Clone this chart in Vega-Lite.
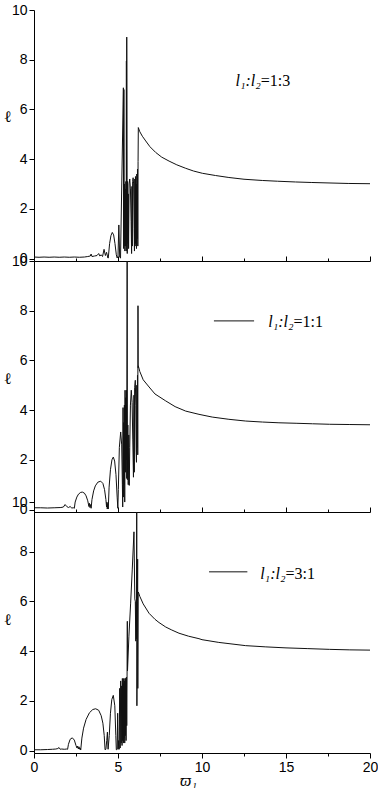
{
  "$schema": "https://vega.github.io/schema/vega-lite/v6.json",
  "background": "white",
  "padding": {"left": 3, "top": 3, "right": 0, "bottom": 0},
  "autosize": {"type": "pad"},
  "bounds": "flush",
  "spacing": 0,
  "datasets": {
    "curve": [
      {"p":1,"w":0,"v":0.06},{"p":1,"w":0.3,"v":0.05},{"p":1,"w":0.6,"v":0.06},{"p":1,"w":0.9,"v":0.05},{"p":1,"w":1.2,"v":0.06},{"p":1,"w":1.5,"v":0.05},{"p":1,"w":1.8,"v":0.06},{"p":1,"w":2.1,"v":0.05},{"p":1,"w":2.4,"v":0.06},{"p":1,"w":2.7,"v":0.05},{"p":1,"w":3.0,"v":0.06},{"p":1,"w":3.2,"v":0.08},{"p":1,"w":3.35,"v":0.1},{"p":1,"w":3.4,"v":0.18},{"p":1,"w":3.45,"v":0.08},{"p":1,"w":3.6,"v":0.1},{"p":1,"w":3.75,"v":0.12},{"p":1,"w":3.85,"v":0.2},{"p":1,"w":3.92,"v":0.1},{"p":1,"w":4.0,"v":0.15},{"p":1,"w":4.08,"v":0.08},{"p":1,"w":4.17,"v":0.37},{"p":1,"w":4.25,"v":0.12},{"p":1,"w":4.32,"v":0.25},{"p":1,"w":4.4,"v":0.02},{"p":1,"w":4.42,"v":0.02},{"p":1,"w":4.5,"v":0.6},{"p":1,"w":4.58,"v":0.92},{"p":1,"w":4.66,"v":1.05},{"p":1,"w":4.74,"v":0.95},{"p":1,"w":4.82,"v":0.6},{"p":1,"w":4.9,"v":0.15},{"p":1,"w":4.95,"v":0.02},{"p":1,"w":5.0,"v":0.1},{"p":1,"w":5.05,"v":1.35},{"p":1,"w":5.1,"v":0.05},{"p":1,"w":5.15,"v":0.02},{"p":1,"w":5.32,"v":6.87},{"p":1,"w":5.335,"v":0.4},{"p":1,"w":5.35,"v":6.8},{"p":1,"w":5.37,"v":0.5},{"p":1,"w":5.39,"v":3.0},{"p":1,"w":5.41,"v":0.3},{"p":1,"w":5.43,"v":2.8},{"p":1,"w":5.45,"v":0.5},{"p":1,"w":5.47,"v":3.1},{"p":1,"w":5.49,"v":0.3},{"p":1,"w":5.5,"v":7.95},{"p":1,"w":5.51,"v":0.5},{"p":1,"w":5.52,"v":8.91},{"p":1,"w":5.55,"v":0.2},{"p":1,"w":5.57,"v":3.1},{"p":1,"w":5.59,"v":0.6},{"p":1,"w":5.61,"v":2.6},{"p":1,"w":5.63,"v":0.4},{"p":1,"w":5.66,"v":3.0},{"p":1,"w":5.7,"v":3.2},{"p":1,"w":5.74,"v":2.8},{"p":1,"w":5.78,"v":1.5},{"p":1,"w":5.81,"v":0.2},{"p":1,"w":5.83,"v":2.9},{"p":1,"w":5.85,"v":0.5},{"p":1,"w":5.87,"v":3.1},{"p":1,"w":5.9,"v":3.25},{"p":1,"w":5.93,"v":3.0},{"p":1,"w":5.96,"v":1.2},{"p":1,"w":5.98,"v":0.3},{"p":1,"w":6.0,"v":3.2},{"p":1,"w":6.02,"v":0.5},{"p":1,"w":6.04,"v":3.3},{"p":1,"w":6.06,"v":0.6},{"p":1,"w":6.08,"v":3.0},{"p":1,"w":6.1,"v":0.4},{"p":1,"w":6.12,"v":3.4},{"p":1,"w":6.14,"v":0.8},{"p":1,"w":6.16,"v":3.6},{"p":1,"w":6.18,"v":0.5},{"p":1,"w":6.195,"v":3.9},{"p":1,"w":6.21,"v":5.27},{"p":1,"w":6.3,"v":5.1},{"p":1,"w":6.45,"v":4.92},{"p":1,"w":6.65,"v":4.73},{"p":1,"w":6.9,"v":4.5},{"p":1,"w":7.24,"v":4.27},{"p":1,"w":7.6,"v":4.08},{"p":1,"w":8.04,"v":3.92},{"p":1,"w":8.5,"v":3.77},{"p":1,"w":9.03,"v":3.63},{"p":1,"w":9.5,"v":3.52},{"p":1,"w":10.02,"v":3.43},{"p":1,"w":10.8,"v":3.34},{"p":1,"w":11.6,"v":3.26},{"p":1,"w":12.5,"v":3.19},{"p":1,"w":13.59,"v":3.14},{"p":1,"w":14.5,"v":3.11},{"p":1,"w":15.57,"v":3.08},{"p":1,"w":16.5,"v":3.06},{"p":1,"w":17.56,"v":3.04},{"p":1,"w":18.7,"v":3.02},{"p":1,"w":20,"v":3.01},

      {"p":2,"w":0,"v":0.07},{"p":2,"w":0.4,"v":0.07},{"p":2,"w":0.8,"v":0.06},{"p":2,"w":1.2,"v":0.07},{"p":2,"w":1.6,"v":0.08},{"p":2,"w":1.75,"v":0.1},{"p":2,"w":1.85,"v":0.2},{"p":2,"w":1.95,"v":0.12},{"p":2,"w":2.05,"v":0.08},{"p":2,"w":2.15,"v":0.12},{"p":2,"w":2.25,"v":0.06},{"p":2,"w":2.35,"v":0.07},{"p":2,"w":2.4,"v":0.05},{"p":2,"w":2.45,"v":0.3},{"p":2,"w":2.55,"v":0.5},{"p":2,"w":2.65,"v":0.62},{"p":2,"w":2.78,"v":0.69},{"p":2,"w":2.88,"v":0.7},{"p":2,"w":3.0,"v":0.66},{"p":2,"w":3.1,"v":0.55},{"p":2,"w":3.2,"v":0.35},{"p":2,"w":3.27,"v":0.12},{"p":2,"w":3.3,"v":0.25},{"p":2,"w":3.33,"v":0.08},{"p":2,"w":3.37,"v":0.2},{"p":2,"w":3.4,"v":0.05},{"p":2,"w":3.45,"v":0.4},{"p":2,"w":3.55,"v":0.75},{"p":2,"w":3.65,"v":0.95},{"p":2,"w":3.8,"v":1.1},{"p":2,"w":3.97,"v":1.14},{"p":2,"w":4.1,"v":1.05},{"p":2,"w":4.2,"v":0.8},{"p":2,"w":4.28,"v":0.4},{"p":2,"w":4.32,"v":0.1},{"p":2,"w":4.34,"v":0.3},{"p":2,"w":4.36,"v":0.02},{"p":2,"w":4.4,"v":0.25},{"p":2,"w":4.42,"v":0.02},{"p":2,"w":4.47,"v":0.9},{"p":2,"w":4.55,"v":1.6},{"p":2,"w":4.64,"v":2.0},{"p":2,"w":4.72,"v":2.11},{"p":2,"w":4.8,"v":1.95},{"p":2,"w":4.88,"v":1.4},{"p":2,"w":4.95,"v":0.5},{"p":2,"w":4.99,"v":0.05},{"p":2,"w":5.02,"v":0.8},{"p":2,"w":5.08,"v":2.5},{"p":2,"w":5.16,"v":3.12},{"p":2,"w":5.22,"v":2.6},{"p":2,"w":5.26,"v":1.0},{"p":2,"w":5.28,"v":0.1},{"p":2,"w":5.3,"v":4.1},{"p":2,"w":5.32,"v":0.5},{"p":2,"w":5.34,"v":3.5},{"p":2,"w":5.36,"v":1.0},{"p":2,"w":5.38,"v":4.2},{"p":2,"w":5.4,"v":0.3},{"p":2,"w":5.42,"v":4.8},{"p":2,"w":5.44,"v":1.5},{"p":2,"w":5.46,"v":4.5},{"p":2,"w":5.48,"v":2.0},{"p":2,"w":5.5,"v":4.8},{"p":2,"w":5.52,"v":1.25},{"p":2,"w":5.545,"v":11},{"p":2,"w":5.56,"v":1.2},{"p":2,"w":5.585,"v":3.4},{"p":2,"w":5.61,"v":1.0},{"p":2,"w":5.64,"v":3.0},{"p":2,"w":5.67,"v":0.97},{"p":2,"w":5.7,"v":2.5},{"p":2,"w":5.74,"v":4.2},{"p":2,"w":5.79,"v":4.8},{"p":2,"w":5.84,"v":4.3},{"p":2,"w":5.88,"v":2.8},{"p":2,"w":5.92,"v":1.3},{"p":2,"w":5.95,"v":4.6},{"p":2,"w":5.97,"v":1.5},{"p":2,"w":5.99,"v":4.9},{"p":2,"w":6.03,"v":5.2},{"p":2,"w":6.06,"v":4.2},{"p":2,"w":6.08,"v":2.3},{"p":2,"w":6.1,"v":1.9},{"p":2,"w":6.12,"v":5.0},{"p":2,"w":6.14,"v":2.5},{"p":2,"w":6.16,"v":5.4},{"p":2,"w":6.175,"v":2.2},{"p":2,"w":6.19,"v":8.2},{"p":2,"w":6.2,"v":5.7},{"p":2,"w":6.21,"v":5.78},{"p":2,"w":6.3,"v":5.55},{"p":2,"w":6.5,"v":5.22},{"p":2,"w":6.85,"v":4.93},{"p":2,"w":7.2,"v":4.65},{"p":2,"w":7.84,"v":4.37},{"p":2,"w":8.4,"v":4.14},{"p":2,"w":9.03,"v":3.96},{"p":2,"w":9.82,"v":3.83},{"p":2,"w":10.61,"v":3.72},{"p":2,"w":11.6,"v":3.63},{"p":2,"w":12.6,"v":3.56},{"p":2,"w":13.6,"v":3.52},{"p":2,"w":14.58,"v":3.49},{"p":2,"w":15.6,"v":3.47},{"p":2,"w":16.57,"v":3.45},{"p":2,"w":17.6,"v":3.43},{"p":2,"w":18.8,"v":3.42},{"p":2,"w":20,"v":3.41},

      {"p":3,"w":0,"v":0.03},{"p":3,"w":0.4,"v":0.03},{"p":3,"w":0.8,"v":0.04},{"p":3,"w":1.1,"v":0.05},{"p":3,"w":1.3,"v":0.06},{"p":3,"w":1.42,"v":0.08},{"p":3,"w":1.49,"v":0.12},{"p":3,"w":1.56,"v":0.05},{"p":3,"w":1.65,"v":0.06},{"p":3,"w":1.8,"v":0.05},{"p":3,"w":1.95,"v":0.06},{"p":3,"w":2.0,"v":0.05},{"p":3,"w":2.05,"v":0.25},{"p":3,"w":2.15,"v":0.45},{"p":3,"w":2.28,"v":0.51},{"p":3,"w":2.4,"v":0.42},{"p":3,"w":2.5,"v":0.2},{"p":3,"w":2.56,"v":0.1},{"p":3,"w":2.6,"v":0.18},{"p":3,"w":2.64,"v":0.06},{"p":3,"w":2.68,"v":0.15},{"p":3,"w":2.72,"v":0.05},{"p":3,"w":2.75,"v":0.1},{"p":3,"w":2.78,"v":0.02},{"p":3,"w":2.85,"v":0.5},{"p":3,"w":2.95,"v":0.9},{"p":3,"w":3.1,"v":1.25},{"p":3,"w":3.3,"v":1.52},{"p":3,"w":3.5,"v":1.65},{"p":3,"w":3.67,"v":1.68},{"p":3,"w":3.85,"v":1.62},{"p":3,"w":4.0,"v":1.4},{"p":3,"w":4.1,"v":1.1},{"p":3,"w":4.18,"v":0.6},{"p":3,"w":4.23,"v":0.03},{"p":3,"w":4.28,"v":0.05},{"p":3,"w":4.33,"v":0.4},{"p":3,"w":4.37,"v":0.74},{"p":3,"w":4.41,"v":0.05},{"p":3,"w":4.48,"v":0.6},{"p":3,"w":4.55,"v":1.5},{"p":3,"w":4.63,"v":2.05},{"p":3,"w":4.72,"v":2.22},{"p":3,"w":4.81,"v":1.8},{"p":3,"w":4.87,"v":0.6},{"p":3,"w":4.9,"v":0.03},{"p":3,"w":4.95,"v":0.05},{"p":3,"w":4.98,"v":1.5},{"p":3,"w":5.01,"v":0.05},{"p":3,"w":5.04,"v":0.4},{"p":3,"w":5.07,"v":0.05},{"p":3,"w":5.1,"v":2.5},{"p":3,"w":5.13,"v":0.1},{"p":3,"w":5.16,"v":2.8},{"p":3,"w":5.19,"v":0.3},{"p":3,"w":5.22,"v":2.6},{"p":3,"w":5.24,"v":0.2},{"p":3,"w":5.26,"v":2.9},{"p":3,"w":5.28,"v":0.4},{"p":3,"w":5.3,"v":2.7},{"p":3,"w":5.32,"v":0.3},{"p":3,"w":5.34,"v":2.9},{"p":3,"w":5.36,"v":0.5},{"p":3,"w":5.38,"v":2.8},{"p":3,"w":5.4,"v":0.3},{"p":3,"w":5.42,"v":2.9},{"p":3,"w":5.44,"v":0.6},{"p":3,"w":5.46,"v":2.9},{"p":3,"w":5.48,"v":0.4},{"p":3,"w":5.5,"v":2.95},{"p":3,"w":5.52,"v":1.0},{"p":3,"w":5.54,"v":3.0},{"p":3,"w":5.555,"v":5.2},{"p":3,"w":5.565,"v":3.2},{"p":3,"w":5.65,"v":4.6},{"p":3,"w":5.75,"v":5.9},{"p":3,"w":5.85,"v":7.3},{"p":3,"w":5.95,"v":8.8},{"p":3,"w":6.0,"v":6.1},{"p":3,"w":6.03,"v":6.0},{"p":3,"w":6.06,"v":4.4},{"p":3,"w":6.08,"v":6.0},{"p":3,"w":6.1,"v":4.5},{"p":3,"w":6.115,"v":11},{"p":3,"w":6.125,"v":1.8},{"p":3,"w":6.14,"v":4.4},{"p":3,"w":6.16,"v":6.0},{"p":3,"w":6.17,"v":7.7},{"p":3,"w":6.18,"v":2.5},{"p":3,"w":6.2,"v":6.3},{"p":3,"w":6.21,"v":6.38},{"p":3,"w":6.3,"v":6.2},{"p":3,"w":6.5,"v":5.9},{"p":3,"w":6.85,"v":5.52},{"p":3,"w":7.2,"v":5.28},{"p":3,"w":7.44,"v":5.15},{"p":3,"w":7.84,"v":4.97},{"p":3,"w":8.2,"v":4.85},{"p":3,"w":8.63,"v":4.72},{"p":3,"w":9.2,"v":4.6},{"p":3,"w":9.82,"v":4.5},{"p":3,"w":10.0,"v":4.46},{"p":3,"w":11.0,"v":4.35},{"p":3,"w":12.6,"v":4.22},{"p":3,"w":13.8,"v":4.17},{"p":3,"w":15.0,"v":4.13},{"p":3,"w":16.3,"v":4.1},{"p":3,"w":17.6,"v":4.07},{"p":3,"w":18.8,"v":4.05},{"p":3,"w":20,"v":4.04}
    ],
    "notes": [
      {"p":1,"x":13.5,"y":6.94,"a":"l₁:l₂","b":"=1:3"},
      {"p":2,"x":15.45,"y":7.33,"a":"l₁:l₂","b":"=1:1"},
      {"p":3,"x":14.97,"y":6.92,"a":"l₁:l₂","b":"=3:1"}
    ],
    "keys": [
      {"p":2,"x1":10.71,"x2":13.1,"y":7.59},
      {"p":3,"x1":10.42,"x2":12.7,"y":7.19}
    ]
  },
  "vconcat": [
    {
      "width": 336, "height": 251,
      "layer": [
        {
          "data": {"name": "curve"},
          "transform": [{"filter": "datum.p == 1"}],
          "mark": {"type": "line", "color": "#111", "strokeWidth": 1, "clip": true},
          "encoding": {
            "x": {"field": "w", "type": "quantitative", "scale": {"domain": [0, 20], "nice": false},
              "axis": {"values": [0,2.5,5,7.5,10,12.5,15,17.5,20], "labels": false, "title": null,
                "tickSize": {"condition": {"test": "datum.value % 5 != 0", "value": -3}, "value": -5}}},
            "y": {"field": "v", "type": "quantitative", "scale": {"domain": [-0.1, 10], "nice": false, "zero": false},
              "axis": {"values": [0,1,2,3,4,5,6,7,8,9,10], "labelExpr": "datum.value % 2 == 0 ? datum.label : ''",
                "tickSize": {"condition": {"test": "datum.value % 2 == 1", "value": 3}, "value": 5},
                "title": "ℓ", "titleX": -27, "titleY": 106}}
          }
        },
        {
          "data": {"name": "notes"},
          "transform": [{"filter": "datum.p == 1"}],
          "mark": {"type": "text", "align": "right", "baseline": "alphabetic", "font": "Liberation Serif", "fontStyle": "italic", "fontSize": 16, "color": "#000"},
          "encoding": {"x": {"field": "x", "type": "quantitative"}, "y": {"field": "y", "type": "quantitative", "axis": {"title": "ℓ", "titleX": -27, "titleY": 106}}, "text": {"field": "a"}}
        },
        {
          "data": {"name": "notes"},
          "transform": [{"filter": "datum.p == 1"}],
          "mark": {"type": "text", "align": "left", "baseline": "alphabetic", "font": "Liberation Serif", "fontSize": 16, "color": "#000"},
          "encoding": {"x": {"field": "x", "type": "quantitative"}, "y": {"field": "y", "type": "quantitative", "axis": {"title": "ℓ", "titleX": -27, "titleY": 106}}, "text": {"field": "b"}}
        }
      ]
    },
    {
      "width": 336, "height": 251,
      "layer": [
        {
          "data": {"name": "curve"},
          "transform": [{"filter": "datum.p == 2"}],
          "mark": {"type": "line", "color": "#111", "strokeWidth": 1, "clip": true},
          "encoding": {
            "x": {"field": "w", "type": "quantitative", "scale": {"domain": [0, 20], "nice": false},
              "axis": {"values": [0,2.5,5,7.5,10,12.5,15,17.5,20], "labels": false, "title": null,
                "tickSize": {"condition": {"test": "datum.value % 5 != 0", "value": -3}, "value": -5}}},
            "y": {"field": "v", "type": "quantitative", "scale": {"domain": [-0.1, 10], "nice": false, "zero": false},
              "axis": {"values": [0,1,2,3,4,5,6,7,8,9,10], "labelExpr": "datum.value % 2 == 0 ? datum.label : ''",
                "tickSize": {"condition": {"test": "datum.value % 2 == 1", "value": 3}, "value": 5},
                "title": "ℓ", "titleX": -27, "titleY": 117}}
          }
        },
        {
          "data": {"name": "keys"},
          "transform": [{"filter": "datum.p == 2"}],
          "mark": {"type": "rule", "color": "#111", "strokeWidth": 1},
          "encoding": {"x": {"field": "x1", "type": "quantitative"}, "x2": {"field": "x2"}, "y": {"field": "y", "type": "quantitative", "axis": {"title": "ℓ", "titleX": -27, "titleY": 117}}}
        },
        {
          "data": {"name": "notes"},
          "transform": [{"filter": "datum.p == 2"}],
          "mark": {"type": "text", "align": "right", "baseline": "alphabetic", "font": "Liberation Serif", "fontStyle": "italic", "fontSize": 16, "color": "#000"},
          "encoding": {"x": {"field": "x", "type": "quantitative"}, "y": {"field": "y", "type": "quantitative", "axis": {"title": "ℓ", "titleX": -27, "titleY": 117}}, "text": {"field": "a"}}
        },
        {
          "data": {"name": "notes"},
          "transform": [{"filter": "datum.p == 2"}],
          "mark": {"type": "text", "align": "left", "baseline": "alphabetic", "font": "Liberation Serif", "fontSize": 16, "color": "#000"},
          "encoding": {"x": {"field": "x", "type": "quantitative"}, "y": {"field": "y", "type": "quantitative", "axis": {"title": "ℓ", "titleX": -27, "titleY": 117}}, "text": {"field": "b"}}
        }
      ]
    },
    {
      "width": 336, "height": 241,
      "layer": [
        {
          "data": {"name": "curve"},
          "transform": [{"filter": "datum.p == 3"}],
          "mark": {"type": "line", "color": "#111", "strokeWidth": 1, "clip": true},
          "encoding": {
            "x": {"field": "w", "type": "quantitative", "scale": {"domain": [0, 20], "nice": false},
              "axis": {"values": [0,2.5,5,7.5,10,12.5,15,17.5,20], "labelExpr": "datum.value % 5 == 0 ? datum.label : ''",
                "labelFlush": false, "labelOverlap": false, "labelFontSize": 14, "labelPadding": 2,
                "tickSize": {"condition": {"test": "datum.value % 5 != 0", "value": 3}, "value": 5},
                "title": "ϖ₁", "titleFont": "Liberation Serif", "titleFontStyle": "italic", "titleFontWeight": "normal", "titleFontSize": 16,
                "titleX": 154, "titleY": 27, "titleBaseline": "middle", "titleAlign": "center"}},
            "y": {"field": "v", "type": "quantitative", "scale": {"domain": [-0.1, 10], "range": [241, -10], "nice": false, "zero": false},
              "axis": {"values": [0,1,2,3,4,5,6,7,8,9,10], "labelExpr": "datum.value % 2 == 0 ? datum.label : ''",
                "tickSize": {"condition": {"test": "datum.value % 2 == 1", "value": 3}, "value": 5},
                "title": "ℓ", "titleX": -27, "titleY": 107}}
          }
        },
        {
          "data": {"name": "keys"},
          "transform": [{"filter": "datum.p == 3"}],
          "mark": {"type": "rule", "color": "#111", "strokeWidth": 1},
          "encoding": {"x": {"field": "x1", "type": "quantitative"}, "x2": {"field": "x2"}, "y": {"field": "y", "type": "quantitative", "axis": {"title": "ℓ", "titleX": -27, "titleY": 107}}}
        },
        {
          "data": {"name": "notes"},
          "transform": [{"filter": "datum.p == 3"}],
          "mark": {"type": "text", "align": "right", "baseline": "alphabetic", "font": "Liberation Serif", "fontStyle": "italic", "fontSize": 16, "color": "#000"},
          "encoding": {"x": {"field": "x", "type": "quantitative"}, "y": {"field": "y", "type": "quantitative", "axis": {"title": "ℓ", "titleX": -27, "titleY": 107}}, "text": {"field": "a"}}
        },
        {
          "data": {"name": "notes"},
          "transform": [{"filter": "datum.p == 3"}],
          "mark": {"type": "text", "align": "left", "baseline": "alphabetic", "font": "Liberation Serif", "fontSize": 16, "color": "#000"},
          "encoding": {"x": {"field": "x", "type": "quantitative"}, "y": {"field": "y", "type": "quantitative", "axis": {"title": "ℓ", "titleX": -27, "titleY": 107}}, "text": {"field": "b"}}
        }
      ]
    }
  ],
  "config": {
    "view": {"stroke": null},
    "axis": {
      "grid": false, "domainColor": "#000", "tickColor": "#000", "labelColor": "#000",
      "labelFont": "Liberation Sans", "labelFontSize": 14, "labelPadding": 2, "labelOverlap": false,
      "domainWidth": 1, "tickWidth": 1,
      "titleFont": "Liberation Serif", "titleFontSize": 16, "titleFontWeight": "normal", "titleColor": "#000"
    },
    "axisY": {"titleAngle": 0, "titleAlign": "center", "titleBaseline": "middle", "labelFlush": false}
  }
}
